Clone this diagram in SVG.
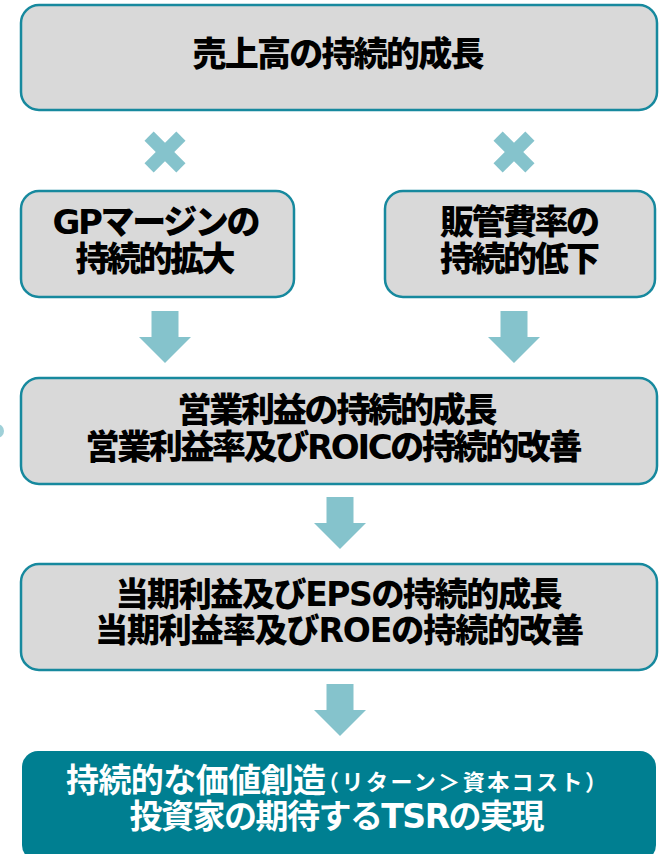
<svg xmlns="http://www.w3.org/2000/svg" width="662" height="854" viewBox="0 0 662 854">
<style>
.box{fill:#d9d9d9;stroke:#17899e;stroke-width:2.5}
.fin{fill:#007f91}
.t{font-family:"DejaVu Sans","Noto Sans CJK JP",sans-serif;font-weight:900;font-size:34px;fill:#000;text-anchor:middle;dominant-baseline:central}
.m{font-size:33px}
.w{fill:#fff;font-weight:bold;font-size:33px}
.s{font-size:22px}
.sym{fill:#85c3cc}
</style>
<defs>
<path id="arrow" d="M-13.5,0 H13.5 V26 H26 L0,52 L-26,26 H-13.5 Z"/>
<g id="cross"><rect x="-22.5" y="-6.5" width="45" height="13" transform="rotate(45)"/><rect x="-22.5" y="-6.5" width="45" height="13" transform="rotate(-45)"/></g>
</defs>
<circle cx="-3" cy="431" r="7" fill="#9fd0d8"/>
<g id="connectors" class="sym">
<use href="#cross" x="165" y="152"/>
<use href="#cross" x="514" y="152"/>
<use href="#arrow" x="165" y="311"/>
<use href="#arrow" x="514" y="311"/>
<use href="#arrow" x="340" y="497"/>
<use href="#arrow" x="340" y="684"/>
</g>
<g id="n1"><rect class="box" x="21" y="5" width="636" height="105" rx="18"/>
<text class="t" x="338.5" y="54" textLength="292">売上高の持続的成長</text></g>
<g id="n2"><rect class="box" x="21" y="191" width="273" height="106" rx="18"/>
<text class="t" x="156.5" y="222" textLength="208">GPマージンの</text>
<text class="t" x="155.5" y="259" textLength="160">持続的拡大</text></g>
<g id="n3"><rect class="box" x="385" y="191" width="270" height="106" rx="18"/>
<text class="t" x="520" y="222" textLength="160">販管費率の</text>
<text class="t" x="520" y="259" textLength="160">持続的低下</text></g>
<g id="n4"><rect class="box" x="21" y="378" width="636" height="106" rx="18"/>
<text class="t" x="337.5" y="410" textLength="320">営業利益の持続的成長</text>
<text class="t" x="334" y="447" textLength="497">営業利益率及びROICの持続的改善</text></g>
<g id="n5"><rect class="box" x="21" y="564" width="636" height="106" rx="18"/>
<text class="t m" x="339" y="594" textLength="447">当期利益及びEPSの持続的成長</text>
<text class="t m" x="339.5" y="630" textLength="489">当期利益率及びROEの持続的改善</text></g>
<g id="n6"><rect class="fin" x="22" y="751" width="634" height="110" rx="16"/>
<text class="t w" x="196" y="780" textLength="260">持続的な価値創造</text>
<text class="t w s" x="462" y="782" textLength="290">（リターン＞資本コスト）</text>
<text class="t w" x="337" y="816" textLength="415">投資家の期待するTSRの実現</text></g>
</svg>
